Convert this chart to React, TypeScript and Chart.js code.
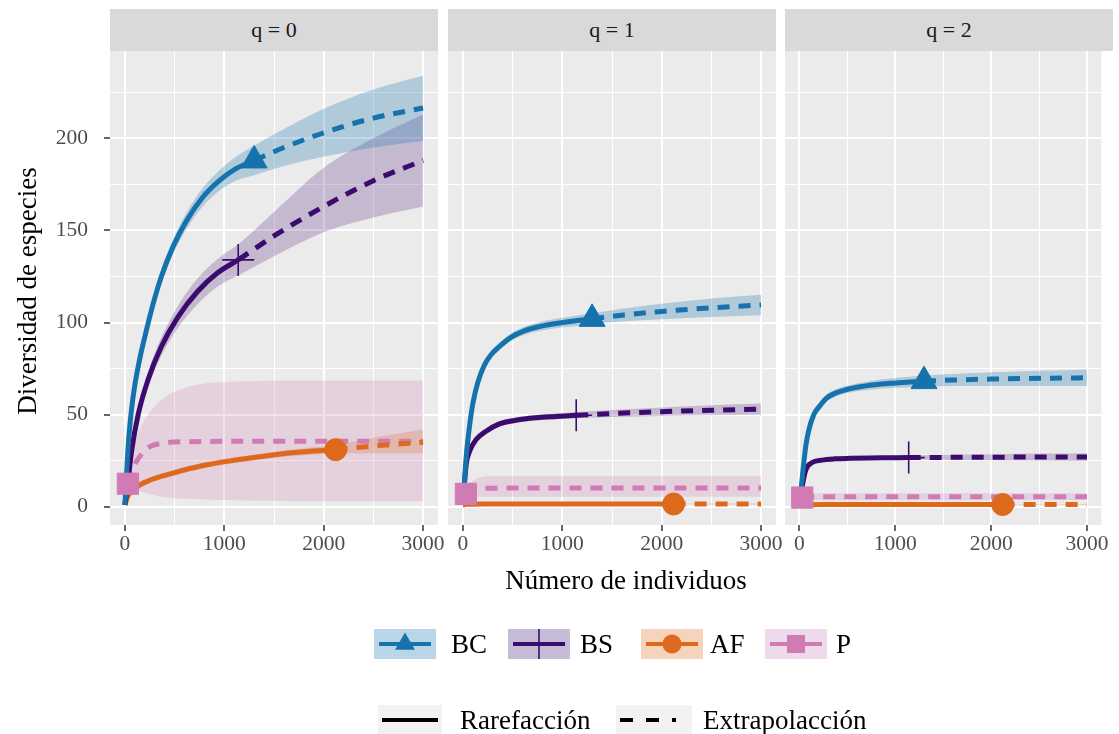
import React, { useEffect, useRef } from "react";
import { Chart, registerables } from "chart.js";

Chart.register(...registerables);

const FONT = "'Liberation Serif', 'Times New Roman', Times, serif";
const W = 1119;
const H = 734;

// ---------- categories / labels ----------
const facetLabels = ["q = 0", "q = 1", "q = 2"];
const siteNames = ["BC", "BS", "AF", "P"];
const methodLabels = ["Rarefacción", "Extrapolacción"];
const xTitle = "Número de individuos";
const yTitle = "Diversidad de especies";

// ---------- ticks ----------
const xMajor = [0, 1000, 2000, 3000];
const xMinor = [500, 1500, 2500];
const yMajor = [0, 50, 100, 150, 200];
const yMinor = [25, 75, 125, 175, 225];

// observed sample size (end of rarefaction / start of extrapolation)
const sampleSize = [1300, 1140, 2120, 30];

// ---------- x grids per site ----------
const xBC = [0, 33, 67, 100, 150, 217, 283, 367, 483, 617, 783, 950, 1117, 1300, 1600, 2000, 2500, 3000];
const xBS = [0, 33, 67, 133, 233, 367, 533, 733, 933, 1140, 1500, 2000, 2500, 3000];
const xAF = [0, 33, 100, 233, 467, 800, 1133, 1467, 1800, 2120, 2500, 3000];
const xP = [0, 15, 30, 60, 100, 133, 233, 367, 633, 1133, 2000, 3000];

// ---------- BC ----------
const bcEst0 = [1, 33, 53, 66, 80.5, 96, 110, 125, 141, 155, 168, 177, 183.5, 188, 195, 203, 211, 216.5];
const bcLo0 = [1, 31, 50, 62.5, 77, 92, 106, 121, 137, 150.5, 163, 171.5, 177, 180, 185, 190, 195, 198.5];
const bcHi0 = [1, 35, 56, 69.5, 84, 100, 114, 129, 145, 159.5, 173, 182.5, 190, 196, 205, 216, 226.5, 234];
const bcEst1 = [1, 27, 44, 56, 67.5, 77, 82.5, 87, 92, 95.5, 98, 99.6, 100.8, 102, 104, 106, 108, 109.5];
const bcLo1 = [1, 25.5, 42, 54, 65.5, 75, 80.5, 85, 90, 93.3, 95.6, 97, 98, 99, 100.5, 101.8, 103, 103.9];
const bcHi1 = [1, 28.5, 46, 58, 69.5, 79, 84.5, 89, 94, 97.7, 100.4, 102.2, 103.6, 105, 107.5, 110.2, 113, 115.1];
const bcEst2 = [1, 17.5, 33, 42, 50, 55, 59, 61.5, 63.5, 65, 66.2, 67, 67.6, 68.2, 68.8, 69.3, 69.7, 70];
const bcLo2 = [1, 16, 31, 40, 48, 53, 57, 59.5, 61.5, 62.8, 63.8, 64.4, 64.8, 65.2, 65.5, 65.6, 65.6, 65.5];
const bcHi2 = [1, 19, 35, 44, 52, 57, 61, 63.5, 65.5, 67.2, 68.6, 69.6, 70.4, 71.2, 72.1, 73, 73.8, 74.5];

// ---------- BS ----------
const bsEst0 = [1, 14.5, 30, 50, 69, 87, 103, 117, 127, 134, 147, 163, 177, 188];
const bsLo0 = [1, 13.5, 28, 47, 65, 82, 97, 110, 119.5, 125.5, 136, 149, 157, 163];
const bsHi0 = [1, 15.5, 32, 53, 73, 92, 109, 124, 134.5, 142.5, 160, 184, 200, 213];
const bsEst1 = [1, 23, 30, 36.5, 41, 45, 47, 48.3, 49, 49.7, 50.6, 51.6, 52.4, 53];
const bsLo1 = [1, 21.5, 28.5, 35, 39.5, 43.5, 45.5, 46.8, 47.4, 48, 48.7, 49.3, 49.7, 50];
const bsHi1 = [1, 24.5, 31.5, 38, 42.5, 46.5, 48.5, 49.8, 50.6, 51.4, 52.5, 53.9, 55.1, 56];
const bsEst2 = [1, 12, 20, 24, 25.3, 26, 26.3, 26.5, 26.6, 26.7, 26.8, 26.9, 27, 27];
const bsLo2 = [1, 11, 19, 23, 24.2, 24.9, 25.2, 25.4, 25.5, 25.6, 25.5, 25.3, 25.1, 24.9];
const bsHi2 = [1, 13, 21, 25, 26.4, 27.1, 27.4, 27.6, 27.7, 27.8, 28.1, 28.5, 28.9, 29.1];

// ---------- AF ----------
const afEst0 = [1, 6, 10, 14, 18, 22.5, 25.5, 28, 29.8, 31, 33, 35];
const afLo0 = [1, 5, 9, 12.5, 16.5, 21, 24, 26.5, 28, 28.8, 29, 29];
const afHi0 = [1, 7, 11, 15.5, 19.5, 24, 27, 29.5, 31.8, 33.5, 37.5, 42];
const afEst1 = [1, 1.3, 1.4, 1.45, 1.5, 1.5, 1.5, 1.5, 1.5, 1.5, 1.5, 1.5];
const afLo1 = [1, 1.1, 1.2, 1.25, 1.3, 1.3, 1.3, 1.3, 1.3, 1.3, 1.25, 1.2];
const afHi1 = [1, 1.5, 1.6, 1.65, 1.7, 1.7, 1.7, 1.7, 1.7, 1.7, 1.75, 1.8];
const afEst2 = [1, 1.1, 1.15, 1.2, 1.2, 1.2, 1.2, 1.2, 1.2, 1.2, 1.2, 1.2];
const afLo2 = [1, 1.0, 1.05, 1.1, 1.1, 1.1, 1.1, 1.1, 1.1, 1.1, 1.05, 1.0];
const afHi2 = [1, 1.2, 1.25, 1.3, 1.3, 1.3, 1.3, 1.3, 1.3, 1.3, 1.35, 1.4];

// ---------- P ----------
const pEst0 = [1, 7, 12.5, 18, 23, 26, 32, 34.4, 35.3, 35.5, 35.5, 35.5];
const pLo0 = [1, 5, 9, 10, 9.5, 9, 7, 5.5, 4.3, 3.5, 3, 3];
const pHi0 = [1, 9, 16, 25, 33, 40, 50, 58, 65, 68, 68.5, 68.5];
const pEst1 = [1, 4.5, 7, 8.5, 9.3, 9.6, 10, 10.1, 10.2, 10.2, 10.2, 10.2];
const pLo1 = [1, 3.5, 4, 5, 5.5, 5.5, 5.5, 5.5, 5.5, 5.5, 5.5, 5.5];
const pHi1 = [1, 5.5, 10, 12, 14, 15, 16.5, 16.5, 16.5, 16.5, 16.5, 16.5];
const pEst2 = [1, 3.5, 5, 5.3, 5.5, 5.5, 5.5, 5.5, 5.5, 5.5, 5.5, 5.5];
const pLo2 = [1, 3, 3.5, 3.7, 3.7, 3.7, 3.7, 3.7, 3.7, 3.7, 3.7, 3.7];
const pHi2 = [1, 4, 6.5, 7, 7.3, 7.3, 7.3, 7.3, 7.3, 7.3, 7.3, 7.3];

// ---------- tables built from the arrays ----------
const siteX = [xBC, xBS, xAF, xP];
const estByFacet = [
  [bcEst0, bsEst0, afEst0, pEst0],
  [bcEst1, bsEst1, afEst1, pEst1],
  [bcEst2, bsEst2, afEst2, pEst2],
];
const loByFacet = [
  [bcLo0, bsLo0, afLo0, pLo0],
  [bcLo1, bsLo1, afLo1, pLo1],
  [bcLo2, bsLo2, afLo2, pLo2],
];
const hiByFacet = [
  [bcHi0, bsHi0, afHi0, pHi0],
  [bcHi1, bsHi1, afHi1, pHi1],
  [bcHi2, bsHi2, afHi2, pHi2],
];

// ---------- styles ----------
const siteColors = ["#1672ad", "#3c0b6e", "#dd6a1c", "#d17bb5"];
const bandColors = [
  "rgba(22,114,173,0.27)",
  "rgba(60,11,110,0.22)",
  "rgba(221,106,28,0.25)",
  "rgba(209,123,181,0.24)",
];
const keyFills = ["#b9d5e8", "#c7bcd8", "#f5d4bb", "#eedaea"];
const markerStyles = ["triangle", "cross", "circle", "rect"];
const markerRadius = [15, 16, 11, 15];
const lineW = 5;

const panelLeft = [110, 448, 785];
const panelRight = [438, 776, 1113];
const panelTop = 51;
const panelBottom = 525;
const stripTop = 9;
const xAxisH = 40;

const panelBg = {
  id: "panelBg",
  beforeDraw(chart: any) {
    const { ctx, chartArea: a } = chart;
    ctx.save();
    ctx.fillStyle = "#ebebeb";
    ctx.fillRect(a.left, a.top, a.right - a.left, a.bottom - a.top);
    ctx.restore();
  },
};

function FacetPanel({ facet }: { facet: number }) {
  const ref = useRef<HTMLCanvasElement>(null);
  useEffect(() => {
    const canvas = ref.current;
    if (!canvas) return;
    const datasets: any[] = [];
    const curve = { cubicInterpolationMode: "monotone", pointRadius: 0, pointHoverRadius: 0 };

    // ribbons
    siteNames.forEach((name, s) => {
      const xs = siteX[s];
      const lo = loByFacet[facet][s];
      const hi = hiByFacet[facet][s];
      datasets.push({
        ...curve,
        label: name + " lo",
        data: xs.map((x, i) => ({ x, y: lo[i] })),
        borderColor: "rgba(0,0,0,0)",
        borderWidth: 0,
        fill: false,
        order: 3,
      });
      datasets.push({
        ...curve,
        label: name + " hi",
        data: xs.map((x, i) => ({ x, y: hi[i] })),
        borderColor: "rgba(0,0,0,0)",
        borderWidth: 0,
        backgroundColor: bandColors[s],
        fill: "-1",
        order: 3,
      });
    });

    // lines
    siteNames.forEach((name, s) => {
      const xs = siteX[s];
      const est = estByFacet[facet][s];
      const n = sampleSize[s];
      const pts = xs.map((x, i) => ({ x, y: est[i] }));
      datasets.push({
        ...curve,
        label: name + " rare",
        data: pts.filter((p) => p.x <= n),
        borderColor: siteColors[s],
        borderWidth: lineW,
        fill: false,
        order: 2,
      });
      datasets.push({
        ...curve,
        label: name + " ext",
        data: pts.filter((p) => p.x >= n),
        borderColor: siteColors[s],
        borderWidth: lineW,
        borderDash: [12, 9],
        fill: false,
        order: 2,
      });
    });

    // markers at observed sample
    siteNames.forEach((name, s) => {
      const xs = siteX[s];
      const est = estByFacet[facet][s];
      const n = sampleSize[s];
      const isCross = markerStyles[s] === "cross";
      datasets.push({
        label: name + " obs",
        data: [{ x: n, y: est[xs.indexOf(n)] }],
        showLine: false,
        pointStyle: markerStyles[s],
        pointRadius: markerRadius[s],
        pointHoverRadius: markerRadius[s],
        pointBackgroundColor: siteColors[s],
        pointBorderColor: siteColors[s],
        pointBorderWidth: isCross ? 1.6 : 1,
        order: 1,
      });
    });

    const first = facet === 0;
    const isMajorX = (c: any) => c.tick && xMajor.includes(c.tick.value);
    const isMajorY = (c: any) => c.tick && yMajor.includes(c.tick.value);

    const chart = new Chart(canvas, {
      type: "line",
      data: { datasets },
      options: {
        animation: false,
        responsive: false,
        maintainAspectRatio: false,
        events: [],
        layout: {
          padding: {
            left: first ? 0 : panelLeft[facet],
            right: W - panelRight[facet],
            top: panelTop,
            bottom: H - panelBottom - xAxisH,
          },
        },
        plugins: {
          legend: { display: false },
          tooltip: { enabled: false },
          title: { display: false },
        },
        scales: {
          x: {
            type: "linear",
            min: -150,
            max: 3150,
            afterBuildTicks: (axis: any) => {
              axis.ticks = [...xMajor, ...xMinor].sort((a, b) => a - b).map((v) => ({ value: v }));
            },
            afterFit: (axis: any) => {
              axis.height = xAxisH;
              axis.paddingLeft = 0;
              axis.paddingRight = 0;
            },
            border: { display: false },
            grid: {
              color: "#ffffff",
              lineWidth: (c: any) => (isMajorX(c) ? 2 : 1),
              drawTicks: true,
              tickLength: 6,
              tickColor: (c: any) => (isMajorX(c) ? "#333333" : "rgba(0,0,0,0)"),
              tickWidth: (c: any) => (isMajorX(c) ? 1.5 : 0.01),
            },
            ticks: {
              autoSkip: false,
              maxRotation: 0,
              minRotation: 0,
              padding: 0,
              color: "#4d4d4d",
              font: { family: FONT, size: 21.5 },
              callback: (v: any) => (xMajor.includes(Number(v)) ? String(v) : ""),
            },
          },
          y: {
            type: "linear",
            min: -9.9,
            max: 247.4,
            afterBuildTicks: (axis: any) => {
              axis.ticks = [...yMajor, ...yMinor].sort((a, b) => a - b).map((v) => ({ value: v }));
            },
            afterFit: (axis: any) => {
              axis.width = first ? panelLeft[0] : 0;
              axis.paddingTop = 0;
              axis.paddingBottom = 0;
            },
            border: { display: false },
            grid: {
              color: "#ffffff",
              lineWidth: (c: any) => (isMajorY(c) ? 2 : 1),
              drawTicks: first,
              tickLength: 6,
              tickColor: (c: any) => (isMajorY(c) ? "#333333" : "rgba(0,0,0,0)"),
              tickWidth: (c: any) => (isMajorY(c) ? 1.5 : 0.01),
            },
            ticks: {
              display: first,
              autoSkip: false,
              padding: 16,
              color: "#4d4d4d",
              font: { family: FONT, size: 21.5 },
              callback: (v: any) => (yMajor.includes(Number(v)) ? String(v) : ""),
            },
          },
        },
      } as any,
      plugins: [panelBg],
    });
    return () => chart.destroy();
  }, [facet]);

  return (
    <canvas
      ref={ref}
      width={W}
      height={H}
      style={{ position: "absolute", left: 0, top: 0, width: W, height: H }}
    />
  );
}

function LegendKeyMarker({ s, cx, cy }: { s: number; cx: number; cy: number }) {
  const c = siteColors[s];
  const style = markerStyles[s];
  if (style === "triangle") {
    const r = 11.5;
    const pts = [
      [cx, cy - r],
      [cx + 0.866 * r, cy + 0.5 * r],
      [cx - 0.866 * r, cy + 0.5 * r],
    ]
      .map((p) => p.join(","))
      .join(" ");
    return <polygon points={pts} fill={c} />;
  }
  if (style === "cross") {
    return <line x1={cx} y1={cy - 15} x2={cx} y2={cy + 15} stroke={c} strokeWidth={1.6} />;
  }
  if (style === "circle") {
    return <circle cx={cx} cy={cy} r={9.5} fill={c} />;
  }
  return <rect x={cx - 9} y={cy - 9} width={18} height={18} fill={c} />;
}

const keyX = [374, 508, 641, 765];
const keyTextX = [451, 580, 710, 836];
const keyW = 62;
const keyTop = 629;
const keyH = 30;

const methodKeyX = [378, 616];
const methodKeyW = [64, 76];
const methodTextX = [460, 703];
const methodTop = 705;

export default function App() {
  useEffect(() => {
    document.body.style.margin = "0";
    document.body.style.background = "#ffffff";
  }, []);

  const textBase: React.CSSProperties = {
    position: "absolute",
    fontFamily: FONT,
    whiteSpace: "nowrap",
    lineHeight: 1,
  };

  return (
    <div
      style={{
        position: "absolute",
        left: 0,
        top: 0,
        width: W,
        height: H,
        background: "#ffffff",
        overflow: "hidden",
      }}
    >
      {/* facet strips */}
      {facetLabels.map((lab, f) => (
        <div
          key={lab}
          style={{
            position: "absolute",
            left: panelLeft[f],
            top: stripTop,
            width: panelRight[f] - panelLeft[f],
            height: panelTop - stripTop,
            background: "#d9d9d9",
            display: "flex",
            alignItems: "center",
            justifyContent: "center",
            fontFamily: FONT,
            fontSize: 22,
            color: "#1a1a1a",
          }}
        >
          {lab}
        </div>
      ))}

      {facetLabels.map((lab, f) => (
        <FacetPanel key={"p" + f} facet={f} />
      ))}

      {/* axis titles */}
      <div
        style={{
          ...textBase,
          left: 626,
          top: 580,
          transform: "translate(-50%, -50%)",
          fontSize: 27,
          color: "#000",
        }}
      >
        {xTitle}
      </div>
      <div
        style={{
          ...textBase,
          left: 27,
          top: 291,
          transform: "translate(-50%, -50%) rotate(-90deg)",
          fontSize: 27,
          color: "#000",
        }}
      >
        {yTitle}
      </div>

      {/* legend graphics */}
      <svg
        width={W}
        height={H}
        style={{ position: "absolute", left: 0, top: 0, pointerEvents: "none" }}
      >
        {siteNames.map((name, s) => {
          const cx = keyX[s] + keyW / 2;
          const cy = keyTop + keyH / 2;
          return (
            <g key={name}>
              <rect x={keyX[s]} y={keyTop} width={keyW} height={keyH} fill={keyFills[s]} />
              <line
                x1={keyX[s] + 5}
                y1={cy}
                x2={keyX[s] + keyW - 5}
                y2={cy}
                stroke={siteColors[s]}
                strokeWidth={4}
              />
              <LegendKeyMarker s={s} cx={cx} cy={cy} />
            </g>
          );
        })}
        {methodLabels.map((m, i) => {
          const cy = methodTop + keyH / 2;
          return (
            <g key={m}>
              <rect x={methodKeyX[i]} y={methodTop} width={methodKeyW[i]} height={keyH} fill="#f2f2f2" />
              <line
                x1={methodKeyX[i] + 4}
                y1={cy}
                x2={i === 0 ? methodKeyX[i] + methodKeyW[i] - 4 : methodKeyX[i] + 60}
                y2={cy}
                stroke="#000"
                strokeWidth={4}
                strokeDasharray={i === 0 ? undefined : "13 13"}
              />
            </g>
          );
        })}
      </svg>

      {/* legend texts */}
      {siteNames.map((name, s) => (
        <div
          key={"t" + name}
          style={{
            ...textBase,
            left: keyTextX[s],
            top: keyTop + keyH / 2 - 13.5,
            fontSize: 27,
            color: "#000",
          }}
        >
          {name}
        </div>
      ))}
      {methodLabels.map((m, i) => (
        <div
          key={"m" + m}
          style={{
            ...textBase,
            left: methodTextX[i],
            top: methodTop + keyH / 2 - 13.5,
            fontSize: 27,
            color: "#000",
          }}
        >
          {m}
        </div>
      ))}
    </div>
  );
}
